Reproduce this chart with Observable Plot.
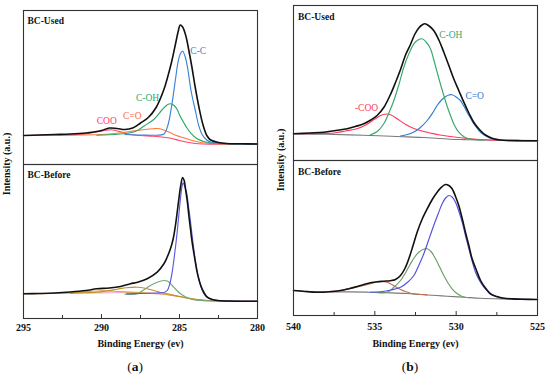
<!DOCTYPE html>
<html><head><meta charset="utf-8">
<script src="https://cdn.jsdelivr.net/npm/d3@7"></script>
<script src="https://cdn.jsdelivr.net/npm/@observablehq/plot@0.6"></script>
<style>
body{margin:0;background:#fff;font-family:"Liberation Serif","Times New Roman",serif;}
#wrap{position:relative;width:550px;height:376px;overflow:hidden;background:#fff;}
.panel{position:absolute;top:0;width:275px;height:376px;}
.panel svg{position:absolute;left:0;top:0;}
.ylab{position:absolute;width:120px;height:12px;line-height:12px;text-align:center;font-weight:bold;font-size:10px;transform:rotate(-90deg);white-space:nowrap;color:#111;}
.cap{position:absolute;top:359px;left:0;width:270px;text-align:center;font-size:13.5px;line-height:15px;color:#111;}
</style></head><body>
<div id="wrap">
  <div class="panel" id="pa" style="left:0"></div>
  <div class="panel" id="pb" style="left:275px"></div>
</div>
<script>
// ---------- tick labels ----------
const aTicksMajor = [295, 290, 285, 280];
const aTicksMinor = [292.5, 287.5, 282.5];
const bTicksMajor = [540, 535, 530, 525];
const bTicksMinor = [537.5, 532.5, 527.5];
const spectra = ["BC-Used", "BC-Before"];

// ---------- (a) C 1s, BC-Used : [binding energy eV, intensity a.u.] ----------
const aUsedEnvelope = [[295,29],[294,29.5],[293,30],[292,30.5],[291,31.5],[290.5,32.5],[290,34],[289.5,36.5],[289,36],[288.5,35],[288,36.5],[287.5,41.5],[287,47],[286.5,57],[286,75],[285.75,88],[285.5,103],[285.25,121],[285.1,132],[284.95,139.5],[284.8,137.5],[284.6,129],[284.4,114],[284.2,97],[284,78],[283.75,57],[283.5,40],[283.25,29],[283,24.5],[282.5,22],[282,21],[281,20.7],[280,20.5]];
const aUsedCC = [[288.5,30],[287.5,29.5],[286.5,29.3],[286,30.5],[285.75,39],[285.5,59],[285.25,86],[285.1,102],[284.95,110.5],[284.8,113.3],[284.65,108.5],[284.5,98.3],[284.25,73],[284,55],[283.75,38],[283.55,30],[283.25,24.5],[283,22.5],[282.5,21.5],[282,21],[281,20.6],[280,20.5]];
const aUsedCOH = [[290.3,29.3],[289.5,29.7],[288.8,30.5],[288.14,31.7],[287.7,34],[287.3,38.3],[286.65,45],[286.1,55],[285.8,59.5],[285.58,60.7],[285.35,59],[285.15,55],[284.95,48],[284.72,41.7],[284.5,36],[284.29,31.7],[283.87,25.7],[283.5,23.3],[283.22,22.3],[282.8,21.3],[282,20.8],[281,20.5],[280,20.5]];
const aUsedCO = [[295,29],[292,29.3],[290,30],[289.5,30.5],[288.78,31.7],[288.2,33],[287.71,34],[287.2,35],[286.65,35.8],[286.43,36],[286.1,35],[285.58,31.7],[285.2,29],[284.72,26.7],[284.3,24.5],[283.87,22.7],[283.4,21.5],[283,21],[282,20.7],[280,20.5]];
const aUsedCOO = [[295,29],[293,29.5],[291.5,30],[290.92,30.7],[290.5,32],[290.06,33.3],[289.7,34.3],[289.38,34.7],[289.1,34],[288.78,32.7],[288.4,31],[288.14,30],[287.5,29],[286.65,28.3],[286,27.3],[285.5,26],[285,24],[284.5,22.3],[284,21],[283.5,20.5],[282,20.3],[280,20.4]];
const aUsedNames = ["C-C", "C-OH", "C=O", "COO"];
const aUsedLabelE = [283.8, 287.05, 288.03, 289.66];
const aUsedLabelI = [114, 67, 48.5, 43.5];

// ---------- (a) C 1s, BC-Before ----------
const aBeforeEnvelope = [[295,24.7],[294,25],[293,25.5],[292,26.5],[291,28],[290.3,29.7],[289.5,30.5],[288.78,32],[288.14,34.7],[287.7,36.3],[287.07,39.7],[286.43,46.3],[286,54.7],[285.8,61],[285.58,69.7],[285.4,80],[285.26,93],[285.15,106],[285.04,119.7],[284.93,132],[284.8,141],[284.7,138],[284.62,130],[284.5,117],[284.4,103],[284.3,90],[284.19,76.3],[284,58],[283.87,46.3],[283.7,36],[283.55,29.7],[283.22,21.3],[282.9,19],[282.58,18],[282,17.5],[281,17.3],[280,17.3]];
const aBeforeCC = [[288.4,24.7],[287.5,25],[286.5,25.5],[286,26],[285.79,28],[285.6,36],[285.47,46.3],[285.3,66],[285.15,86.3],[285.04,104],[284.94,119.7],[284.85,131],[284.77,135.7],[284.66,132],[284.55,126.3],[284.42,112],[284.29,96.3],[284.13,75],[283.97,56.3],[283.8,42],[283.65,33],[283.45,25],[283.22,21.3],[282.9,19],[282.5,18],[282,17.5],[281,17.3],[280,17.3]];
const aBeforeCOH = [[288.5,24.3],[287.7,24.7],[287.3,28.5],[286.86,33],[286.43,36.3],[286,38],[285.75,37.2],[285.47,33],[285.2,28.5],[284.94,24.7],[284.65,22],[284.4,20.3],[284,18.5],[283.5,18],[283,17.7]];
const aBeforeCO = [[292,25.3],[291,25.8],[290.3,26.3],[289.7,27.5],[289,29.3],[288.4,30.8],[287.71,31.3],[287.2,30.3],[286.6,27.8],[286.2,26],[285.79,24.7],[285.3,23],[284.8,21.5],[284.3,20],[283.8,19],[283.3,18.3],[282.5,17.6],[281.5,17.3]];
const aBeforeCOO = [[295,24.7],[293,25.2],[291.5,26.3],[290.6,27.3],[289.9,27.6],[289.2,27.2],[288.5,26.6],[287.5,25.9],[286.5,25],[285.5,23.4],[285,22],[284.5,20.5],[283.87,18.6],[283.3,17.8],[282.5,17.4],[280,17.3]];
const aBeforeBase = [[295,24.7],[292,25.2],[290,25.6],[288.14,26],[287,25.4],[286.22,24.5],[285.5,23],[285,21.8],[284.5,20.3],[283.87,18.5],[283.3,17.7],[282.5,17.4],[280,17.3]];

// ---------- (b) O 1s, BC-Used ----------
const bUsedEnvelope = [[540,26.7],[539,27.5],[538.14,28.3],[537.4,30],[536.7,31.7],[536.2,34],[535.68,36.7],[535.25,40.5],[534.86,45],[534.45,53],[534.04,66],[533.73,78],[533.42,91],[533.1,106],[532.81,116],[532.55,126],[532.3,132.5],[532.1,135.5],[531.92,136.7],[531.7,135],[531.38,130],[531.05,120],[530.76,108.3],[530.45,95],[530.15,81.7],[529.84,70],[529.53,58.3],[529.22,47.5],[528.92,38.3],[528.6,31.5],[528.3,26.7],[528,23.8],[527.69,21.7],[527.3,20.5],[526.87,20],[526,19.8],[525,19.7]];
const bUsedCOH = [[535.27,25.7],[534.85,29],[534.45,36.7],[534.15,47],[533.83,60],[533.5,77],[533.22,93.3],[532.9,107],[532.6,116.7],[532.35,120.5],[532.09,121.7],[531.85,118.5],[531.58,111.7],[531.38,101],[531.17,88.3],[530.96,76],[530.76,65],[530.55,54],[530.35,45],[530.1,35],[529.84,28.3],[529.5,23.5],[529.22,21.7],[528.8,20.8],[528.3,20.5]];
const bUsedCO = [[533.42,24.5],[533,26],[532.6,28.5],[532.2,33],[531.78,40],[531.45,47.5],[531.17,55],[530.9,60.5],[530.66,63.8],[530.45,65.5],[530.25,65.7],[530,63.5],[529.74,60],[529.53,54.5],[529.33,48.3],[529.12,42.5],[528.92,36.7],[528.7,32],[528.5,28.3],[528.2,24.8],[527.9,22.3],[527.5,20.8],[527,20.2],[526,20],[525,19.7]];
const bUsedCOO = [[540,26.7],[538.5,27],[537.5,27.5],[536.8,29.5],[536.1,31.7],[535.5,36],[535,41.5],[534.65,45],[534.3,46.5],[534,45.5],[533.63,41.7],[533.1,36],[532.6,32],[532.1,29.5],[531.58,27.5],[531,25.5],[530.35,24],[529.7,22.7],[529.12,21.8],[528.5,21],[527.9,20.5],[527,20],[525,19.7]];
const bUsedBase = [[540,26.7],[538,26.2],[536.5,25.6],[535.27,25],[534,24.2],[533,23.6],[532,23],[531,22],[530.35,21.3],[529.5,20.9],[528.7,20.6],[527,20.2],[525,20]];
const bUsedNames = ["C-OH", "C=O", "-COO"];
const bUsedLabelE = [530.33, 528.86, 535.51];
const bUsedLabelI = [126, 64.5, 53];

// ---------- (b) O 1s, BC-Before ----------
const bBeforeEnvelope = [[540,25],[539.3,24],[538.54,23.3],[537.8,23.8],[537.11,25],[536.6,26.8],[536.08,29],[535.68,31],[535.27,32.7],[534.85,33.8],[534.45,34.3],[534.04,34.8],[533.73,36],[533.42,40],[533.15,47],[532.91,56.7],[532.65,70],[532.4,83.3],[532.1,96],[531.78,106.7],[531.47,116],[531.17,123.3],[530.9,128.3],[530.66,131],[530.45,130],[530.25,126.7],[530.04,119],[529.84,110],[529.63,97],[529.43,83.3],[529.22,70],[529.02,56.7],[528.75,45],[528.5,35],[528.2,27.5],[527.9,21.7],[527.5,19],[527.07,17.3],[526.5,16.6],[526,16.3],[525,16]];
const bBeforeLattice = [[535.27,23.3],[534.65,23.8],[534,25.5],[533.42,28.3],[533,33],[532.6,40],[532.3,50],[531.99,61.7],[531.68,76],[531.38,90],[531.1,102],[530.86,111.7],[530.65,117.5],[530.45,120],[530.25,118.5],[530.04,113.3],[529.84,104.5],[529.63,93.3],[529.43,80],[529.22,66.7],[529.02,54.5],[528.81,43.3],[528.55,34.5],[528.3,28.3],[528,23.5],[527.69,20],[527.3,17.8],[526.8,16.8],[526,16.3],[525,16]];
const bBeforeCOH = [[535,23],[534.24,23.3],[533.85,28],[533.42,35],[533.1,43],[532.81,51.7],[532.55,58.5],[532.3,63.3],[532,66.3],[531.78,66.7],[531.55,64],[531.27,56.7],[531,48],[530.76,40],[530.5,32.5],[530.25,26.7],[529.95,22],[529.63,19],[529.2,17.8]];
const bBeforeCOO = [[538.5,23.4],[537.8,24],[537.11,25],[536.4,27.5],[535.68,30],[535.1,32.5],[534.65,34],[534.3,33.5],[534.04,31.7],[533.7,28.5],[533.42,26],[533.1,23.8],[532.81,22.3],[532.3,21.2],[531.8,20.6]];
const bBeforeBase = [[540,25],[539,24],[538,23.7],[537,23.6],[535.27,23.3],[534,22.6],[533,22],[532.2,21],[531.2,20],[530.55,19.3],[529.5,18.3],[528.5,17.3],[527,16.6],[525,16]];

// ---------- drawing ----------
const FONT = "'Liberation Serif','Times New Roman',serif";

function labelMarks(names, es, vs, spectrum, colors) {
  return names.map((n, i) => Plot.text([n], {
    x: () => es[i], y: () => vs[i], fy: () => spectrum, text: d => d,
    fill: colors[i], fontWeight: "normal", fontSize: 9.5
  }));
}

const panelA = {
  domain: [295, 280], yMax: 154, ml: 23, mr: 18, mt: 10, mb: 34,
  major: aTicksMajor, minor: aTicksMinor, tickPad: 5.5, labelOffset: 28.5,
  labelDx: 4, labelDy: 6.5,
  series: [
    {spectrum: "BC-Used", data: aUsedCOO, color: "#ff4470"},
    {spectrum: "BC-Used", data: aUsedCO, color: "#ff7a3c"},
    {spectrum: "BC-Used", data: aUsedCOH, color: "#2fa866"},
    {spectrum: "BC-Used", data: aUsedCC, color: "#3b84d8"},
    {spectrum: "BC-Used", data: aUsedEnvelope, color: "#111", width: 1.6},
    {spectrum: "BC-Before", data: aBeforeBase, color: "#f2a9c6"},
    {spectrum: "BC-Before", data: aBeforeCOO, color: "#d9a441"},
    {spectrum: "BC-Before", data: aBeforeCO, color: "#c68d26"},
    {spectrum: "BC-Before", data: aBeforeCOH, color: "#72a878"},
    {spectrum: "BC-Before", data: aBeforeCC, color: "#5858e2"},
    {spectrum: "BC-Before", data: aBeforeEnvelope, color: "#111", width: 1.6}
  ]
};
const panelB = {
  domain: [540, 525], yMax: 155, ml: 18, mr: 13, mt: 5, mb: 37,
  major: bTicksMajor, minor: bTicksMinor, tickPad: 7, labelOffset: 31.5,
  labelDx: 4.5, labelDy: 8,
  series: [
    {spectrum: "BC-Used", data: bUsedBase, color: "#7a7a7a"},
    {spectrum: "BC-Used", data: bUsedCOO, color: "#ff3a58"},
    {spectrum: "BC-Used", data: bUsedCO, color: "#2f7cd2"},
    {spectrum: "BC-Used", data: bUsedCOH, color: "#36a86a"},
    {spectrum: "BC-Used", data: bUsedEnvelope, color: "#111", width: 1.6},
    {spectrum: "BC-Before", data: bBeforeBase, color: "#7a7a7a"},
    {spectrum: "BC-Before", data: bBeforeCOO, color: "#c46f50"},
    {spectrum: "BC-Before", data: bBeforeCOH, color: "#6c9c66"},
    {spectrum: "BC-Before", data: bBeforeLattice, color: "#5050e0"},
    {spectrum: "BC-Before", data: bBeforeEnvelope, color: "#111", width: 1.6}
  ]
};

function render(el, cfg, extraLabels) {
  const marks = [];
  for (const s of cfg.series) {
    marks.push(Plot.line(s.data, {
      x: d => d[0], y: d => d[1], fy: () => s.spectrum,
      stroke: s.color, strokeWidth: s.width || 1.15, curve: "catmull-rom"
    }));
  }
  marks.push(...extraLabels);
  marks.push(Plot.text(spectra, {
    fy: d => d, text: d => d, frameAnchor: "top-left",
    dx: cfg.labelDx, dy: cfg.labelDy, fontSize: 9.5, fontWeight: "bold", fill: "#111"
  }));
  marks.push(Plot.frame({stroke: "#333", strokeWidth: 1.1}));
  marks.push(Plot.axisX({ticks: cfg.major, tickSize: -4, text: null, label: null, stroke: "#333"}));
  marks.push(Plot.axisX({ticks: cfg.minor, tickSize: -3, text: null, label: null, stroke: "#333"}));
  marks.push(Plot.axisX({ticks: cfg.major, tickSize: 0, tickPadding: cfg.tickPad, tickFormat: d => String(d),
    label: "Binding Energy (ev)", labelAnchor: "center", labelOffset: cfg.labelOffset, labelArrow: "none",
    fontSize: 10, fontWeight: "bold", fill: "#111"}));
  const svg = Plot.plot({
    width: 275, height: 352,
    marginLeft: cfg.ml, marginRight: cfg.mr, marginTop: cfg.mt, marginBottom: cfg.mb,
    style: {fontFamily: FONT, fontSize: "10px", fontWeight: "bold", color: "#111", background: "transparent"},
    x: {domain: cfg.domain},
    y: {domain: [0, cfg.yMax], axis: null},
    fy: {domain: spectra, axis: null, padding: 0},
    marks
  });
  el.appendChild(svg);
}

render(document.getElementById("pa"), panelA,
  labelMarks(aUsedNames, aUsedLabelE, aUsedLabelI, "BC-Used", ["#3b84d8", "#2fa866", "#ff6a3c", "#ff3a66"]));
render(document.getElementById("pb"), panelB,
  labelMarks(bUsedNames, bUsedLabelE, bUsedLabelI, "BC-Used", ["#36a86a", "#2f7cd2", "#ff3a58"]));

// y-axis titles and panel captions
function addHtml(el, cls, html, style) {
  const d = document.createElement("div");
  d.className = cls; d.innerHTML = html; Object.assign(d.style, style); el.appendChild(d);
}
addHtml(document.getElementById("pa"), "ylab", "Intensity (a.u.)", {left: (7.3 - 60) + "px", top: (164 - 6) + "px"});
addHtml(document.getElementById("pb"), "ylab", "Intensity (a.u.)", {left: (5.5 - 60) + "px", top: (160 - 6) + "px"});
addHtml(document.getElementById("pa"), "cap", "(<b>a</b>)", {});
addHtml(document.getElementById("pb"), "cap", "(<b>b</b>)", {});
</script>
</body></html>
